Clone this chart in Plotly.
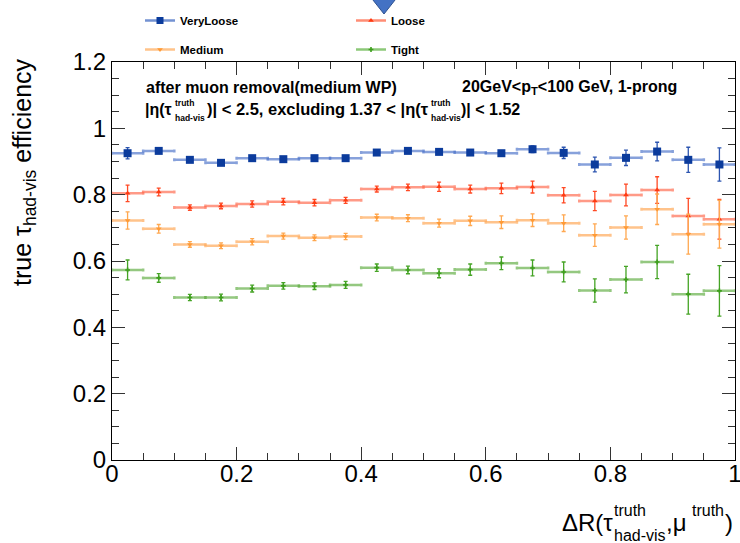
import plotly.graph_objects as go

# ---------------- data ----------------
dr_centers = [0.025, 0.075, 0.125, 0.175, 0.225, 0.275, 0.325, 0.375, 0.425, 0.475,
              0.525, 0.575, 0.625, 0.675, 0.725, 0.775, 0.825, 0.875, 0.925, 0.975]
dr_halfwidth = [0.025] * 20

x_tickvals = [0, 0.2, 0.4, 0.6, 0.8, 1.0]
x_ticktext = ["0", "0.2", "0.4", "0.6", "0.8", "1"]
y_tickvals = [0, 0.2, 0.4, 0.6, 0.8, 1.0, 1.2]
y_ticktext = ["0", "0.2", "0.4", "0.6", "0.8", "1", "1.2"]

veryloose_eff = [0.925, 0.932, 0.905, 0.896, 0.910, 0.907, 0.910, 0.910, 0.927, 0.932,
                 0.929, 0.927, 0.925, 0.937, 0.926, 0.891, 0.911, 0.930, 0.905, 0.891]
veryloose_err = [0.017, 0.006, 0.005, 0.005, 0.005, 0.005, 0.005, 0.005, 0.006, 0.006,
                 0.006, 0.007, 0.008, 0.010, 0.017, 0.022, 0.023, 0.028, 0.038, 0.050]

loose_eff = [0.804, 0.808, 0.761, 0.766, 0.772, 0.779, 0.776, 0.783, 0.817, 0.822,
             0.824, 0.817, 0.819, 0.823, 0.798, 0.781, 0.799, 0.814, 0.736, 0.726]
loose_err = [0.025, 0.0115, 0.008, 0.0085, 0.0095, 0.0095, 0.0095, 0.009, 0.009, 0.010,
             0.014, 0.012, 0.016, 0.018, 0.023, 0.029, 0.033, 0.040, 0.053, 0.060]

medium_eff = [0.722, 0.697, 0.650, 0.646, 0.658, 0.675, 0.670, 0.674, 0.731, 0.729,
              0.714, 0.721, 0.717, 0.723, 0.714, 0.678, 0.701, 0.756, 0.681, 0.711]
medium_err = [0.026, 0.013, 0.0085, 0.0085, 0.0095, 0.009, 0.0085, 0.0095, 0.010, 0.0105,
              0.012, 0.014, 0.019, 0.019, 0.025, 0.034, 0.035, 0.046, 0.060, 0.072]

tight_eff = [0.573, 0.549, 0.490, 0.490, 0.517, 0.525, 0.524, 0.528, 0.580, 0.573,
             0.563, 0.574, 0.593, 0.579, 0.567, 0.511, 0.544, 0.597, 0.500, 0.510]
tight_err = [0.030, 0.013, 0.0095, 0.010, 0.0105, 0.0095, 0.010, 0.0105, 0.011, 0.0115,
             0.0135, 0.017, 0.019, 0.024, 0.030, 0.035, 0.040, 0.050, 0.060, 0.076]

series_names = ["VeryLoose", "Loose", "Medium", "Tight"]

# ---------------- styles ----------------
W, H = 740, 543
L, R, T, B = 112, 5, 62, 83
PW, PH = W - L - R, H - T - B

def px(x):
    return (x - L) / PW

def py(y):
    return (H - B - y) / PH

styles = {
    "VeryLoose": dict(marker="#0b3b9c", vbar="#2c55b0", hbar="rgba(70,110,200,0.65)",
                      symbol="square", size=8, legend="legend", leg_line="#7392d2"),
    "Loose": dict(marker="#ff3a10", vbar="#ff4a25", hbar="rgba(255,100,70,0.65)",
                  symbol="triangle-up", size=5, legend="legend2", leg_line="#ff8d75"),
    "Medium": dict(marker="#ff9a35", vbar="#ffa850", hbar="rgba(255,170,90,0.7)",
                   symbol="triangle-down", size=5, legend="legend", leg_line="#ffc38a"),
    "Tight": dict(marker="#3d9e1c", vbar="#45a425", hbar="rgba(90,170,60,0.65)",
                  symbol="cross", size=4, legend="legend2", leg_line="#8cc878"),
}

data = {
    "VeryLoose": (veryloose_eff, veryloose_err),
    "Loose": (loose_eff, loose_err),
    "Medium": (medium_eff, medium_err),
    "Tight": (tight_eff, tight_err),
}

fig = go.Figure()

for name in series_names:
    eff, err = data[name]
    st = styles[name]
    fig.add_trace(go.Scatter(
        x=dr_centers, y=eff, mode="markers", showlegend=False, name=name,
        marker=dict(symbol=st["symbol"], size=st["size"], color=st["marker"], line=dict(width=0)),
        error_x=dict(type="data", array=dr_halfwidth, color=st["hbar"], thickness=2.5, width=1.5),
        error_y=dict(type="data", array=err, color=st["vbar"], thickness=1.3, width=2),
    ))

for name in ["VeryLoose", "Medium", "Loose", "Tight"]:
    st = styles[name]
    fig.add_trace(go.Scatter(
        x=[None], y=[None], mode="lines+markers", name=name, legend=st["legend"],
        legendgroup=name,
        line=dict(color=st["leg_line"], width=2.5),
        marker=dict(symbol=st["symbol"], size=st["size"] if name != "VeryLoose" else 7,
                    color=st["marker"]),
    ))

axis_common = dict(
    showline=True, linecolor="black", linewidth=1, mirror="ticks",
    ticks="inside", ticklen=13, tickwidth=1, tickcolor="#333",
    showgrid=False, zeroline=False, tickmode="array", ticklabeloverflow="allow",
    tickfont=dict(family="Liberation Sans, Arial", size=24, color="black"),
    minor=dict(ticks="inside", ticklen=7, tickwidth=1, tickcolor="#333", showgrid=False,
               tickmode="linear", tick0=0, dtick=0.05),
)

fig.update_xaxes(range=[0, 1], tickvals=x_tickvals, ticktext=x_ticktext,
                 ticklabelstandoff=-8, **axis_common)
fig.update_yaxes(range=[0, 1.2], tickvals=y_tickvals, ticktext=y_ticktext,
                 ticklabelstandoff=0, **axis_common)

legend_font = dict(family="Liberation Sans, Arial", size=11.5, color="black", weight="bold")
legend_common = dict(font=legend_font, bgcolor="rgba(0,0,0,0)", borderwidth=0,
                     orientation="v", tracegroupgap=10, itemwidth=30,
                     xref="container", yref="container", xanchor="left", yanchor="top")

fig.update_layout(
    width=W, height=H,
    margin=dict(l=L, r=R, t=T, b=B, pad=0, autoexpand=False),
    paper_bgcolor="white", plot_bgcolor="white",
    legend=dict(x=140 / W, y=1 - 6 / H, **legend_common),
    legend2=dict(x=351 / W, y=1 - 6 / H, **legend_common),
    font=dict(family="Liberation Sans, Arial", color="black"),
)

ann = []
bold16 = dict(family="Liberation Sans, Arial", size=16, color="black", weight="bold")
bold165 = dict(family="Liberation Sans, Arial", size=16.5, color="black", weight="bold")
bold_small = dict(family="Liberation Sans, Arial", size=8.5, color="black", weight="bold")
reg24 = dict(family="Liberation Sans, Arial", size=24, color="black")
reg16 = dict(family="Liberation Sans, Arial", size=16, color="black")

def add(text, x, y, font, xanchor="left", yanchor="middle", angle=0):
    ann.append(dict(text=text, x=px(x), y=py(y), xref="paper", yref="paper",
                    xanchor=xanchor, yanchor=yanchor, showarrow=False, font=font,
                    textangle=angle))

# row 1
add("after muon removal(medium WP)", 144, 87, bold16)
add("20GeV&lt;p<sub>T</sub>&lt;100 GeV, 1-prong", 460, 88, bold16)
# row 2
add("|η(τ", 143, 109, bold16)
add("truth", 173, 103, bold_small)
add("had-vis", 173, 118, bold_small)
add(")| &lt; 2.5, excluding 1.37 &lt; |η(τ", 205, 109, bold165)
add("truth", 429, 103, bold_small)
add("had-vis", 429, 118, bold_small)
add(")| &lt; 1.52", 459, 109, bold16)

# y-axis title
add("true τ<sub>had-vis</sub> efficiency", 24, 56, dict(family="Liberation Sans, Arial", size=25,
                                                     color="black"),
    xanchor="center", yanchor="top", angle=-90)

# x-axis title
add("ΔR(τ", 560, 522, reg24)
add("truth", 612, 510, reg16)
add("had-vis", 612, 535, reg16)
add(",μ", 664, 522, reg24)
add("truth", 690, 510, reg16)
add(")", 723, 522, reg24)

fig.update_layout(annotations=ann)

# decorative slide triangle at top
tri = "M {a},{b} L {c},{b} L {d},{e} Z".format(
    a=px(369), b=py(-5), c=px(399), d=px(384), e=py(14))
fig.add_shape(type="path", path=tri, xref="paper", yref="paper",
              fillcolor="#4472C4", line=dict(color="#2f528f", width=1), layer="above")

fig.write_html("out.html")
